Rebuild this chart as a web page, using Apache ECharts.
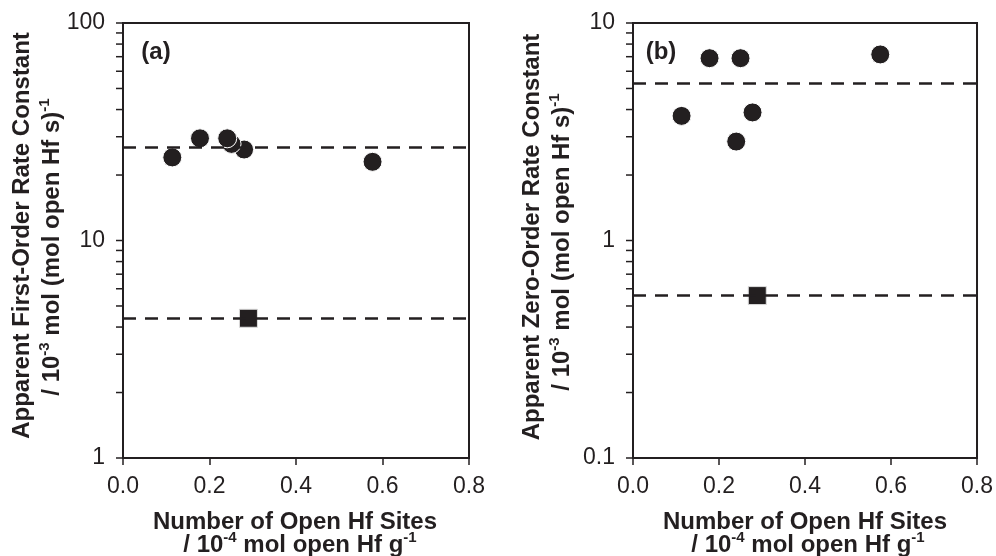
<!DOCTYPE html>
<html><head><meta charset="utf-8">
<script src="https://cdn.jsdelivr.net/npm/echarts@6/dist/echarts.min.js"></script>
<style>html,body{margin:0;padding:0;background:#fff}#c{width:996px;height:556px}</style>
</head><body><div id="c"></div>
<script>
// Panel (a): apparent first-order rate constant
const aCircleX = [0.114, 0.178, 0.280, 0.251, 0.241, 0.577];
const aCircleY = [24.1, 29.5, 26.2, 27.8, 29.5, 23.0];
const aSquareX = [0.290];
const aSquareY = [4.39];
const aDashY = [26.7, 4.39];
// Panel (b): apparent zero-order rate constant
const bCircleX = [0.113, 0.178, 0.250, 0.240, 0.278, 0.575];
const bCircleY = [3.74, 6.89, 6.89, 2.85, 3.88, 7.17];
const bSquareX = [0.289];
const bSquareY = [0.558];
const bDashY = [5.28, 0.56];
// Axes
const xMin = 0, xMax = 0.8, xStep = 0.2;
const aYLabels = [1, 10, 100];
const aYTicks = [1,2,3,4,5,6,7,8,9,10,20,30,40,50,60,70,80,90,100];
const bYLabels = [0.1, 1, 10];
const bYTicks = [0.1,0.2,0.3,0.4,0.5,0.6,0.7,0.8,0.9,1,2,3,4,5,6,7,8,9,10];

const C = '#231f20';
const FF = 'Liberation Sans, Arial, sans-serif';

function pairs(xs, ys){ return xs.map((x,i)=>[x, ys[i]]); }

function xAxis(idx){
  return {type:'value', gridIndex:idx, min:xMin, max:xMax, interval:xStep,
    axisLine:{show:true, onZero:false, lineStyle:{color:C, width:2}},
    axisTick:{show:true, inside:false, length:7, lineStyle:{color:C, width:1.5}},
    axisLabel:{fontSize:23, color:C, margin:17, fontFamily:FF, formatter:v=>v.toFixed(1)},
    splitLine:{show:false}};
}
function yAxis(idx, min, max, labels){
  return {type:'log', logBase:10, gridIndex:idx, min:min, max:max,
    axisLine:{show:true, lineStyle:{color:C, width:2}},
    axisTick:{show:false},
    axisLabel:{fontSize:23, color:C, margin:18, fontFamily:FF, customValues:labels,
      formatter:v=>String(+(+v).toPrecision(3))},
    splitLine:{show:false}, minorTick:{show:false}};
}
function tickSeries(idx, ticks){
  return {type:'custom', xAxisIndex:idx, yAxisIndex:idx, z:10, silent:true, clip:false,
    data: ticks.map(v=>[xMin, v]),
    renderItem:function(params, api){
      const p = api.coord([api.value(0), api.value(1)]);
      return {type:'line', shape:{x1:p[0]-7, y1:p[1], x2:p[0], y2:p[1]},
        style:{stroke:C, lineWidth:1.5}};
    }};
}
function dashSeries(idx, vals){
  return {type:'line', xAxisIndex:idx, yAxisIndex:idx, data:[], z:1, silent:true,
    markLine:{silent:true, symbol:['none','none'], animation:false,
      label:{show:false},
      lineStyle:{color:C, width:2.5, type:[13,9]},
      data: vals.map(v=>({yAxis:v}))}};
}
function circleSeries(idx, xs, ys){
  return {type:'scatter', xAxisIndex:idx, yAxisIndex:idx, z:3, symbol:'circle', symbolSize:19,
    itemStyle:{color:C, borderColor:'#ffffff', borderWidth:1, opacity:1},
    data:pairs(xs, ys)};
}
function squareSeries(idx, xs, ys){
  return {type:'scatter', xAxisIndex:idx, yAxisIndex:idx, z:3, symbol:'rect', symbolSize:18,
    itemStyle:{color:C, borderColor:'#dddddd', borderWidth:1, opacity:1},
    data:pairs(xs, ys)};
}

const richStyle = {
  n:{fontSize:24, fontWeight:'bold', fontFamily:FF, fill:C, lineHeight:30},
  s:{fontSize:15, fontWeight:'bold', fontFamily:FF, fill:C, lineHeight:15, verticalAlign:'top'}
};
function txt(x, y, rot, text){
  return {type:'text', x:x, y:y, rotation:rot, silent:true,
    style:{text:text, rich:richStyle, align:'center', verticalAlign:'middle', fill:C,
      font:'bold 24px '+FF}};
}

const chart = echarts.init(document.getElementById('c'), null, {renderer:'canvas'});
chart.setOption({
  animation:false,
  backgroundColor:'#ffffff',
  grid:[
    {left:123, top:23, width:346, height:435, show:true, borderColor:C, borderWidth:2, backgroundColor:'transparent'},
    {left:633, top:23, width:346, height:435, show:true, borderColor:C, borderWidth:2, backgroundColor:'transparent'}
  ],
  xAxis:[xAxis(0), xAxis(1)],
  yAxis:[yAxis(0, 1, 100, aYLabels), yAxis(1, 0.1, 10, bYLabels)],
  series:[
    dashSeries(0, aDashY), circleSeries(0, aCircleX, aCircleY), squareSeries(0, aSquareX, aSquareY), tickSeries(0, aYTicks),
    dashSeries(1, bDashY), circleSeries(1, bCircleX, bCircleY), squareSeries(1, bSquareX, bSquareY), tickSeries(1, bYTicks)
  ],
  graphic:[
    txt(22.5, 235.5, Math.PI/2, '{n|Apparent First-Order Rate Constant}'),
    txt(52, 247, Math.PI/2, '{n|/ 10}{s|-3}{n| mol (mol open Hf s)}{s|-1}'),
    txt(532, 237, Math.PI/2, '{n|Apparent Zero-Order Rate Constant}'),
    txt(562, 242, Math.PI/2, '{n|/ 10}{s|-3}{n| mol (mol open Hf s)}{s|-1}'),
    txt(295, 522, 0, '{n|Number of Open Hf Sites}'),
    txt(300, 545, 0, '{n|/ 10}{s|-4}{n| mol open Hf g}{s|-1}'),
    txt(805, 522, 0, '{n|Number of Open Hf Sites}'),
    txt(808, 545, 0, '{n|/ 10}{s|-4}{n| mol open Hf g}{s|-1}'),
    txt(156, 52, 0, '{n|(a)}'),
    txt(661, 52, 0, '{n|(b)}')
  ]
});
</script></body></html>
